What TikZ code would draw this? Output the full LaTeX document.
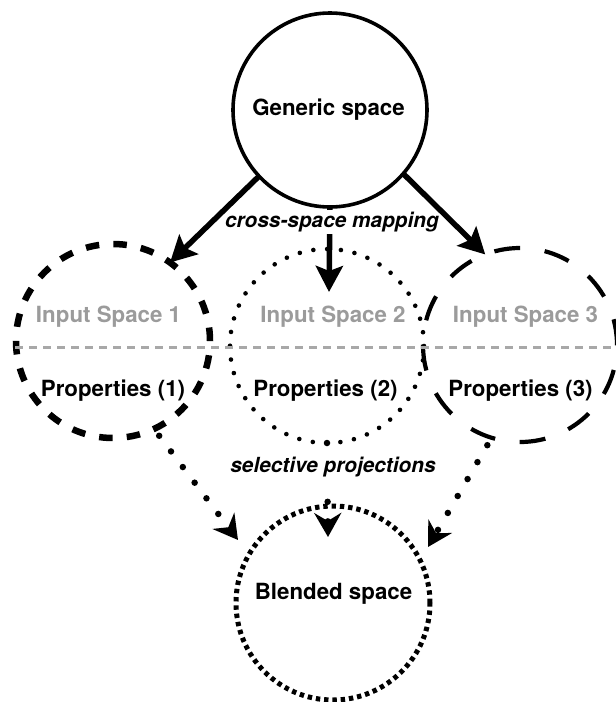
\documentclass[tikz,border=0pt]{standalone}
\usepackage{fontspec}
\setmainfont{TeX Gyre Heros}
\usetikzlibrary{arrows.meta}
\definecolor{lblgray}{HTML}{9B9B9B}
\definecolor{linegray}{HTML}{A8A8A8}
\begin{document}
\begin{tikzpicture}[x=1pt,y=-1pt,
  space/.style={circle, minimum size=194pt, inner sep=0pt, outer sep=0pt},
  lbl/.style={font=\fontsize{22.3}{26}\selectfont\bfseries, anchor=base, inner sep=0pt},
  grlbl/.style={lbl, text=lblgray},
  ital/.style={font=\fontsize{20.8}{24}\selectfont\bfseries\itshape, anchor=base, fill=white, inner xsep=2pt, inner ysep=2pt},
  maparrow/.style={line width=5.5pt, -{Stealth[length=26pt,width=27pt,inset=5pt]}},
  projarrow/.style={line width=6.5pt, line cap=round, dash pattern=on 0pt off 19.6pt, -{Stealth[length=24pt,width=27pt,inset=8pt]}},
]
\useasboundingbox (0,0) rectangle (616,702);
% spaces
\node[space, draw, line width=3.6pt] (gen) at (330,110) {};
\node[space, draw, line width=6.5pt, dash pattern=on 13.5pt off 14.2pt] (is1) at (113,341) {};
\node[space, draw, line width=4.6pt, line cap=round, dash pattern=on 0pt off 13.84pt] (is2) at (327,346) {};
\node[space, draw, line width=4.2pt, dash pattern=on 26pt off 24.75pt] (is3) at (520,345) {};
\node[space, draw, line width=5pt, dash pattern=on 4.4pt off 3.9pt] (blend) at (333,603) {};
% divider
\coordinate (divl) at (15,347);
\coordinate (divr) at (616,347);
\draw[linegray, line width=3pt, dash pattern=on 7.5pt off 6.5pt] (divl) -- (divr);
% labels
\node[lbl] (genlbl) at (328.5,115) {Generic space};
\node[lbl] (blendlbl) at (333.5,599) {Blended space};
\node[grlbl] (in1) at (108.5,322.7) {Input Space 1};
\node[grlbl] (in2) at (333,322.7) {Input Space 2};
\node[grlbl] (in3) at (525.5,322.7) {Input Space 3};
\node[lbl] (pr1) at (113,396.7) {Properties (1)};
\node[lbl] (pr2) at (325.5,396.5) {Properties (2)};
\node[lbl] (pr3) at (520.5,396.5) {Properties (3)};
% arrow end points
\coordinate (m2) at (329,292);
\coordinate (t1) at (238,540);
\coordinate (t2) at (328,537);
\coordinate (t3) at (428,547);
% middle arrows (under labels)
\draw[maparrow] (gen.south) -- (m2);
\draw[projarrow] (is2.south) -- (t2);
\node[ital] (cross) at (332,227) {cross-space mapping};
\node[ital, inner ysep=10.5pt] (sel) at (333,472.7) {selective projections};
% side arrows
\draw[maparrow] (gen.223) -- (is1.54);
\draw[maparrow] (gen.319) -- (is3.111);
\draw[projarrow, dash phase=11pt] (is1.-65) -- (t1);
\draw[projarrow, dash phase=11pt] (is3.-107) -- (t3);
\end{tikzpicture}
\end{document}
